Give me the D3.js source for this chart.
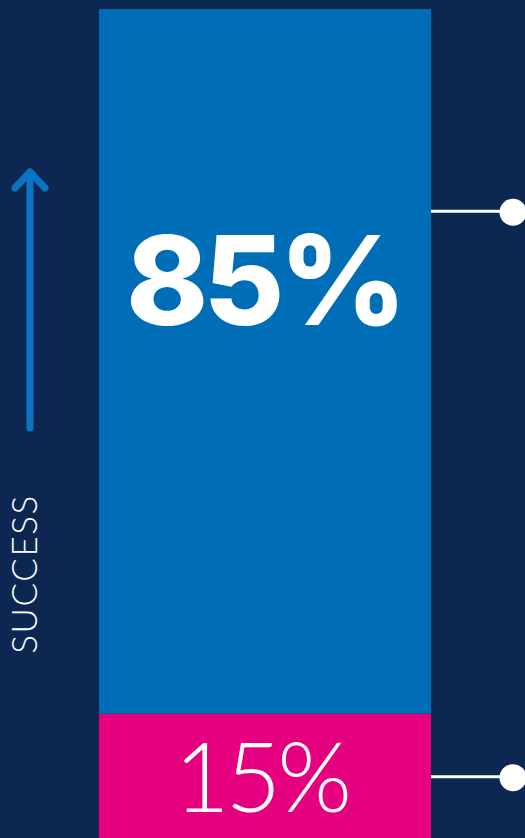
<!DOCTYPE html>
<html>
<head>
<meta charset="utf-8">
<script src="https://cdnjs.cloudflare.com/ajax/libs/d3/7.8.5/d3.min.js"></script>
<style>
	html, body { margin: 0; padding: 0; background: #0c2852; }
	svg { display: block; }
</style>
</head>
<body>
<svg width="525" height="838"></svg>
<script>
// data
var segments = ["failure", "success"];
var values = [15, 85];
var labels = ["15%", "85%"];
var segmentColors = ["#e4007f", "#006eb6"];
// where each connector meets the bar, in bar units (0-100)
var connectorValues = [7.4, 75.6];
var axisTitle = "SUCCESS";

var svg = d3.select("svg"),
	width = +svg.attr("width"),
	height = +svg.attr("height");

var y = d3.scaleLinear()
	.domain([0, 100])
	.range([height, 9]);

var x = d3.scaleBand()
	.domain(["bar"])
	.range([99, 431]);

// stack the segments bottom to top
var stacked = [];
var acc = 0;
for (var i = 0; i < values.length; i++) {
	stacked.push({ key: segments[i], v0: acc, v1: acc + values[i], label: labels[i], color: segmentColors[i], bold: i == 1 });
	acc += values[i];
}

var bars = svg.append("g")
	.selectAll("rect")
	.data(stacked)
	.enter().append("rect")
	.attr("x", x("bar"))
	.attr("width", x.bandwidth())
	.attr("y", function(d) { return y(d.v1); })
	.attr("height", function(d) { return y(d.v0) - y(d.v1); })
	.style("fill", function(d) { return d.color; });

// segment labels
svg.append("g")
	.selectAll("text")
	.data(stacked)
	.enter().append("text")
	.attr("x", function(d) { return x("bar") + x.bandwidth() / 2 + (d.bold ? -1 : -4); })
	.attr("y", function(d) { return d.bold ? 325 : 812; })
	.attr("text-anchor", "middle")
	.style("fill", "white")
	.style("font-family", function(d) { return d.bold ? "Inter, Lato, sans-serif" : "Lato, sans-serif"; })
	.style("font-weight", function(d) { return d.bold ? 800 : 300; })
	.style("font-size", function(d) { return d.bold ? "124px" : "96px"; })
	.style("letter-spacing", function(d) { return d.bold ? "-5px" : "-4px"; })
	.text(function(d) { return d.label; });

// connectors on the right
var conn = svg.append("g");
conn.selectAll("line")
	.data(connectorValues)
	.enter().append("line")
	.attr("x1", x("bar") + x.bandwidth())
	.attr("x2", 510)
	.attr("y1", function(d) { return y(d); })
	.attr("y2", function(d) { return y(d); })
	.style("stroke", "white")
	.style("stroke-width", 3);
conn.selectAll("circle")
	.data(connectorValues)
	.enter().append("circle")
	.attr("cx", 513)
	.attr("cy", function(d) { return y(d) + 1; })
	.attr("r", 13.5)
	.style("fill", "white");

// success arrow
var arrow = svg.append("g")
	.style("stroke", "#0a74c2")
	.style("stroke-width", 7)
	.style("stroke-linecap", "round")
	.style("stroke-linejoin", "round")
	.style("fill", "none");
arrow.append("line")
	.attr("x1", 30).attr("x2", 30)
	.attr("y1", 428).attr("y2", 172);
arrow.append("path")
	.attr("d", "M15,188L30,172L45,188");

svg.append("text")
	.attr("transform", "translate(37,574) rotate(-90)")
	.attr("text-anchor", "middle")
	.style("fill", "white")
	.style("font-family", "Lato, sans-serif")
	.style("font-weight", 300)
	.style("font-size", "35px")
	.style("letter-spacing", "1.5px")
	.text(axisTitle);
</script>
</body>
</html>
